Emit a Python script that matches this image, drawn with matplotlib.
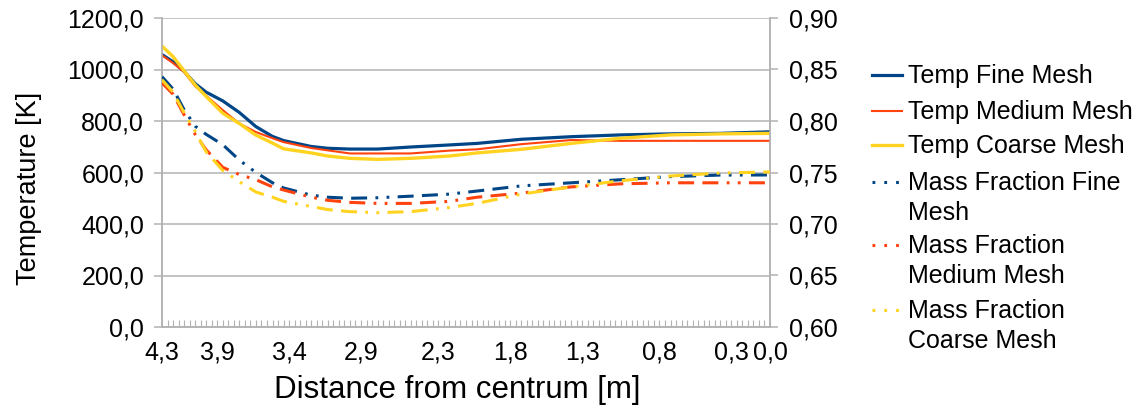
import matplotlib
matplotlib.use('Agg')
import matplotlib.pyplot as plt
from matplotlib.lines import Line2D
from matplotlib.ticker import FuncFormatter, MultipleLocator

# Data; x is the category index along the distance axis
n_categories = 111
tick_idx = [0, 10, 23, 36, 50, 63, 76, 90, 103, 110]
tick_labels = ['4,3', '3,9', '3,4', '2,9', '2,3', '1,8', '1,3', '0,8', '0,3', '0,0']

sample_idx = [0, 2, 4, 6, 8, 11, 14, 17, 20, 22, 27, 30, 34, 39, 45, 52, 57, 65, 74, 83, 92, 101, 110]

temp_fine = [1058, 1030, 993, 945, 912, 878, 833, 778, 740, 724, 701, 694, 691, 691, 699, 707,
             713, 729, 739, 746, 750, 752, 758]
temp_medium = [1055, 1025, 990, 935, 898, 842, 790, 757, 733, 718, 695, 686, 674, 674, 674, 685,
               690, 710, 726, 723, 723, 723, 723]
temp_coarse = [1091, 1050, 995, 940, 895, 830, 790, 745, 714, 692, 676, 664, 655, 651, 655, 664,
               676, 690, 713, 733, 746, 750, 752]

mf_fine = [0.843, 0.831, 0.811, 0.795, 0.787, 0.777, 0.762, 0.750, 0.740, 0.735, 0.728, 0.726,
           0.725, 0.7255, 0.727, 0.729, 0.732, 0.737, 0.740, 0.743, 0.746, 0.7475, 0.7476]
mf_medium = [0.837, 0.826, 0.806, 0.787, 0.772, 0.755, 0.748, 0.743, 0.736, 0.733, 0.726, 0.723,
             0.721, 0.720, 0.720, 0.722, 0.726, 0.730, 0.736, 0.739, 0.740, 0.740, 0.740]
mf_coarse = [0.840, 0.828, 0.808, 0.790, 0.770, 0.752, 0.741, 0.731, 0.726, 0.722, 0.717, 0.714,
             0.712, 0.711, 0.712, 0.716, 0.720, 0.729, 0.736, 0.742, 0.7466, 0.7495, 0.7505]

# Style
plt.rcParams.update({
    'font.family': ['Liberation Sans', 'DejaVu Sans'],
    'font.size': 18,
    'lines.scale_dashes': False,
})
BLUE, RED, YELLOW = '#004586', '#ff420e', '#ffd320'
GRID = '#b3b3b3'
W, H = 1142, 412
mf_dash = (0, (11.5, 6, 11.5, 6, 2, 6, 2, 6))

fig = plt.figure(figsize=(W / 100, H / 100), dpi=100)
ax = fig.add_axes([162 / W, 1 - 327 / H, (770 - 162) / W, (327 - 18) / H])
ax2 = ax.twinx()

temp_series = [
    ('Temp Fine Mesh', temp_fine, BLUE, 2.3),
    ('Temp Medium Mesh', temp_medium, RED, 1.5),
    ('Temp Coarse Mesh', temp_coarse, YELLOW, 2.4),
]
mf_series = [
    ('Mass Fraction Fine\nMesh', mf_fine, BLUE),
    ('Mass Fraction\nMedium Mesh', mf_medium, RED),
    ('Mass Fraction\nCoarse Mesh', mf_coarse, YELLOW),
]

for name, vals, col, lw in temp_series:
    ax.plot(sample_idx, vals, color=col, lw=lw, solid_capstyle='butt', zorder=3)
for name, vals, col in mf_series:
    ax2.plot(sample_idx, vals, color=col, lw=2.2, linestyle=mf_dash, zorder=3)

# Axes
ax.set_xlim(0, n_categories - 1)
ax.set_ylim(0, 1200)
ax2.set_ylim(0.60, 0.90)
ax.yaxis.set_major_locator(MultipleLocator(200))
ax2.yaxis.set_major_locator(MultipleLocator(0.05))
ax.yaxis.set_major_formatter(FuncFormatter(lambda v, p: f'{v:.1f}'.replace('.', ',')))
ax2.yaxis.set_major_formatter(FuncFormatter(lambda v, p: f'{v:.2f}'.replace('.', ',')))

ax.set_xticks(tick_idx)
ax.set_xticklabels(tick_labels)
ax.set_xticks(range(n_categories), minor=True)

ax.grid(axis='y', color=GRID, lw=1.1)
ax.set_axisbelow(True)
for a in (ax, ax2):
    for s in a.spines.values():
        s.set_color(GRID)
        s.set_linewidth(1.1)
    a.spines['top'].set_visible(False)

ax.tick_params(axis='y', direction='out', length=5.8, width=1.1, color=GRID, pad=7)
ax2.tick_params(axis='y', direction='out', length=5.8, width=1.1, color=GRID, pad=8)
ax.tick_params(axis='x', which='both', direction='in', length=5.4, width=0.8, color=GRID, pad=10)

ax.set_ylabel('Temperature [K]', fontsize=19.5)
ax.yaxis.set_label_coords(-0.198, 0.45)
ax.set_xlabel('Distance from centrum [m]', fontsize=22.5)
ax.xaxis.set_label_coords(0.485, -0.155)

# Legend, drawn by hand so wrapped labels keep the key on their first line
rows = [75, 110.7, 145, 181.7, 245, 310]
entries = [(n, c, lw, '-') for n, v, c, lw in temp_series] + \
          [(n, c, 2.2, (0, (2, 6.5))) for n, v, c in mf_series]
for (name, col, lw, ls), y in zip(entries, rows):
    yf = 1 - y / H
    fig.add_artist(Line2D([872 / W, 902 / W], [yf, yf], transform=fig.transFigure,
                          color=col, lw=lw, linestyle=ls))
    fig.text(908 / W, yf + 11 / H, name, va='top', ha='left', fontsize=18, linespacing=1.32,
             transform=fig.transFigure)

fig.savefig('out.png', dpi=100)
